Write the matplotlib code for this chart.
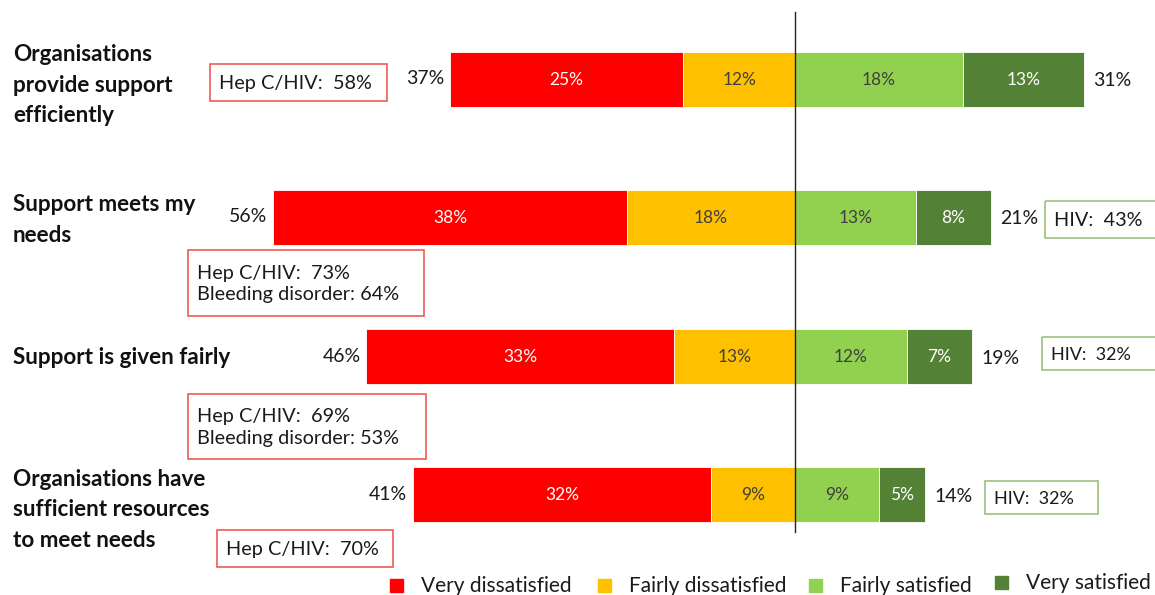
import matplotlib
matplotlib.use("Agg")
import matplotlib.pyplot as plt
from matplotlib.patches import Rectangle

plt.rcParams['font.family'] = ['Lato', 'DejaVu Sans']

# ---------------- data ----------------
categories = ["Organisations\nprovide support\nefficiently",
              "Support meets my\nneeds",
              "Support is given fairly",
              "Organisations have\nsufficient resources\nto meet needs"]
series_names = ["Very dissatisfied", "Fairly dissatisfied", "Fairly satisfied", "Very satisfied"]
very_dissatisfied = [25, 38, 33, 32]
fairly_dissatisfied = [12, 18, 13, 9]
fairly_satisfied = [18, 13, 12, 9]
very_satisfied = [13, 8, 7, 5]
neg_totals = [37, 56, 46, 41]
pos_totals = [31, 21, 19, 14]
red_notes = ["Hep C/HIV:  58%",
             "Hep C/HIV:  73%\nBleeding disorder: 64%",
             "Hep C/HIV:  69%\nBleeding disorder: 53%",
             "Hep C/HIV:  70%"]
green_notes = ["", "HIV:  43%", "HIV:  32%", "HIV:  32%"]

colors = ["#FF0000", "#FFC000", "#92D050", "#538135"]
text_colors = ["white", "#404040", "#404040", "white"]

W, H = 1155, 595
fig = plt.figure(figsize=(W / 100, H / 100), dpi=100)

# main data axes: x in percent, y in pixel rows
cx, scale = 795, 9.32
ax = fig.add_axes([0, 0, 1, 1])
ax.set_xlim(-cx / scale, (W - cx) / scale)
ax.set_ylim(H, 0)
ax.axis("off")

row_y = [79, 217, 356, 494]
bar_h = 55

for i in range(len(categories)):
    y = row_y[i]
    vd, fd, fs, vs = very_dissatisfied[i], fairly_dissatisfied[i], fairly_satisfied[i], very_satisfied[i]
    lefts = [-(vd + fd), -fd, 0, fs]
    widths = [vd, fd, fs, vs]
    for j in range(4):
        ax.barh(y, widths[j], left=lefts[j], height=bar_h, color=colors[j],
                edgecolor="white", linewidth=0.6)
        ax.text(lefts[j] + widths[j] / 2, y + 1, f"{widths[j]}%", ha="center", va="center",
                fontsize=12.5, color=text_colors[j])
    ax.text(-(vd + fd) - 0.6, y, f"{neg_totals[i]}%", ha="right", va="center",
            fontsize=14, color="#1a1a1a")
    ax.text(fs + vs + 1.0, y + 2, f"{pos_totals[i]}%", ha="left", va="center",
            fontsize=14, color="#1a1a1a")

ax.plot([0, 0], [12, 532], color="#222222", linewidth=1)

# overlay axes in pixel coordinates for annotations
ov = fig.add_axes([0, 0, 1, 1])
ov.set_xlim(0, W)
ov.set_ylim(H, 0)
ov.axis("off")
ov.patch.set_alpha(0)

cat_y = [85, 220, 358, 510]
for i, c in enumerate(categories):
    ov.text(13, cat_y[i], c, ha="left", va="center", fontsize=16.2, fontweight="bold",
            color="#111111", linespacing=1.55)

red_boxes = [(210, 64, 177, 37), (188, 250, 236, 66), (188, 394, 238, 65), (217, 530, 176, 37)]
for i, (bx, by, bw, bh) in enumerate(red_boxes):
    ov.add_patch(Rectangle((bx, by), bw, bh, fill=False, edgecolor="#F05A5A", linewidth=1.2))
    ov.text(bx + 9, by + bh / 2 + 1, red_notes[i], ha="left", va="center", fontsize=14.3,
            color="#1a1a1a", linespacing=1.3)

green_boxes = [None, (1045, 201, 115, 37), (1042, 337, 115, 33), (985, 481, 113, 33)]
for i, b in enumerate(green_boxes):
    if b is None or not green_notes[i]:
        continue
    bx, by, bw, bh = b
    ov.add_patch(Rectangle((bx, by), bw, bh, fill=False, edgecolor="#9CC07E", linewidth=1.2))
    ov.text(bx + 9, by + bh / 2 + 1, green_notes[i], ha="left", va="center",
            fontsize=14.3 if i == 1 else 13, color="#1a1a1a")

leg_sq_x = [390, 598, 809, 995]
leg_y = [586, 586, 586, 583]
for j, name in enumerate(series_names):
    ov.add_patch(Rectangle((leg_sq_x[j], leg_y[j] - 7), 13, 13, color=colors[j]))
    ov.text(leg_sq_x[j] + 31, leg_y[j], name, ha="left", va="center", fontsize=15,
            color="#1a1a1a")

fig.savefig("out.png", dpi=100)
